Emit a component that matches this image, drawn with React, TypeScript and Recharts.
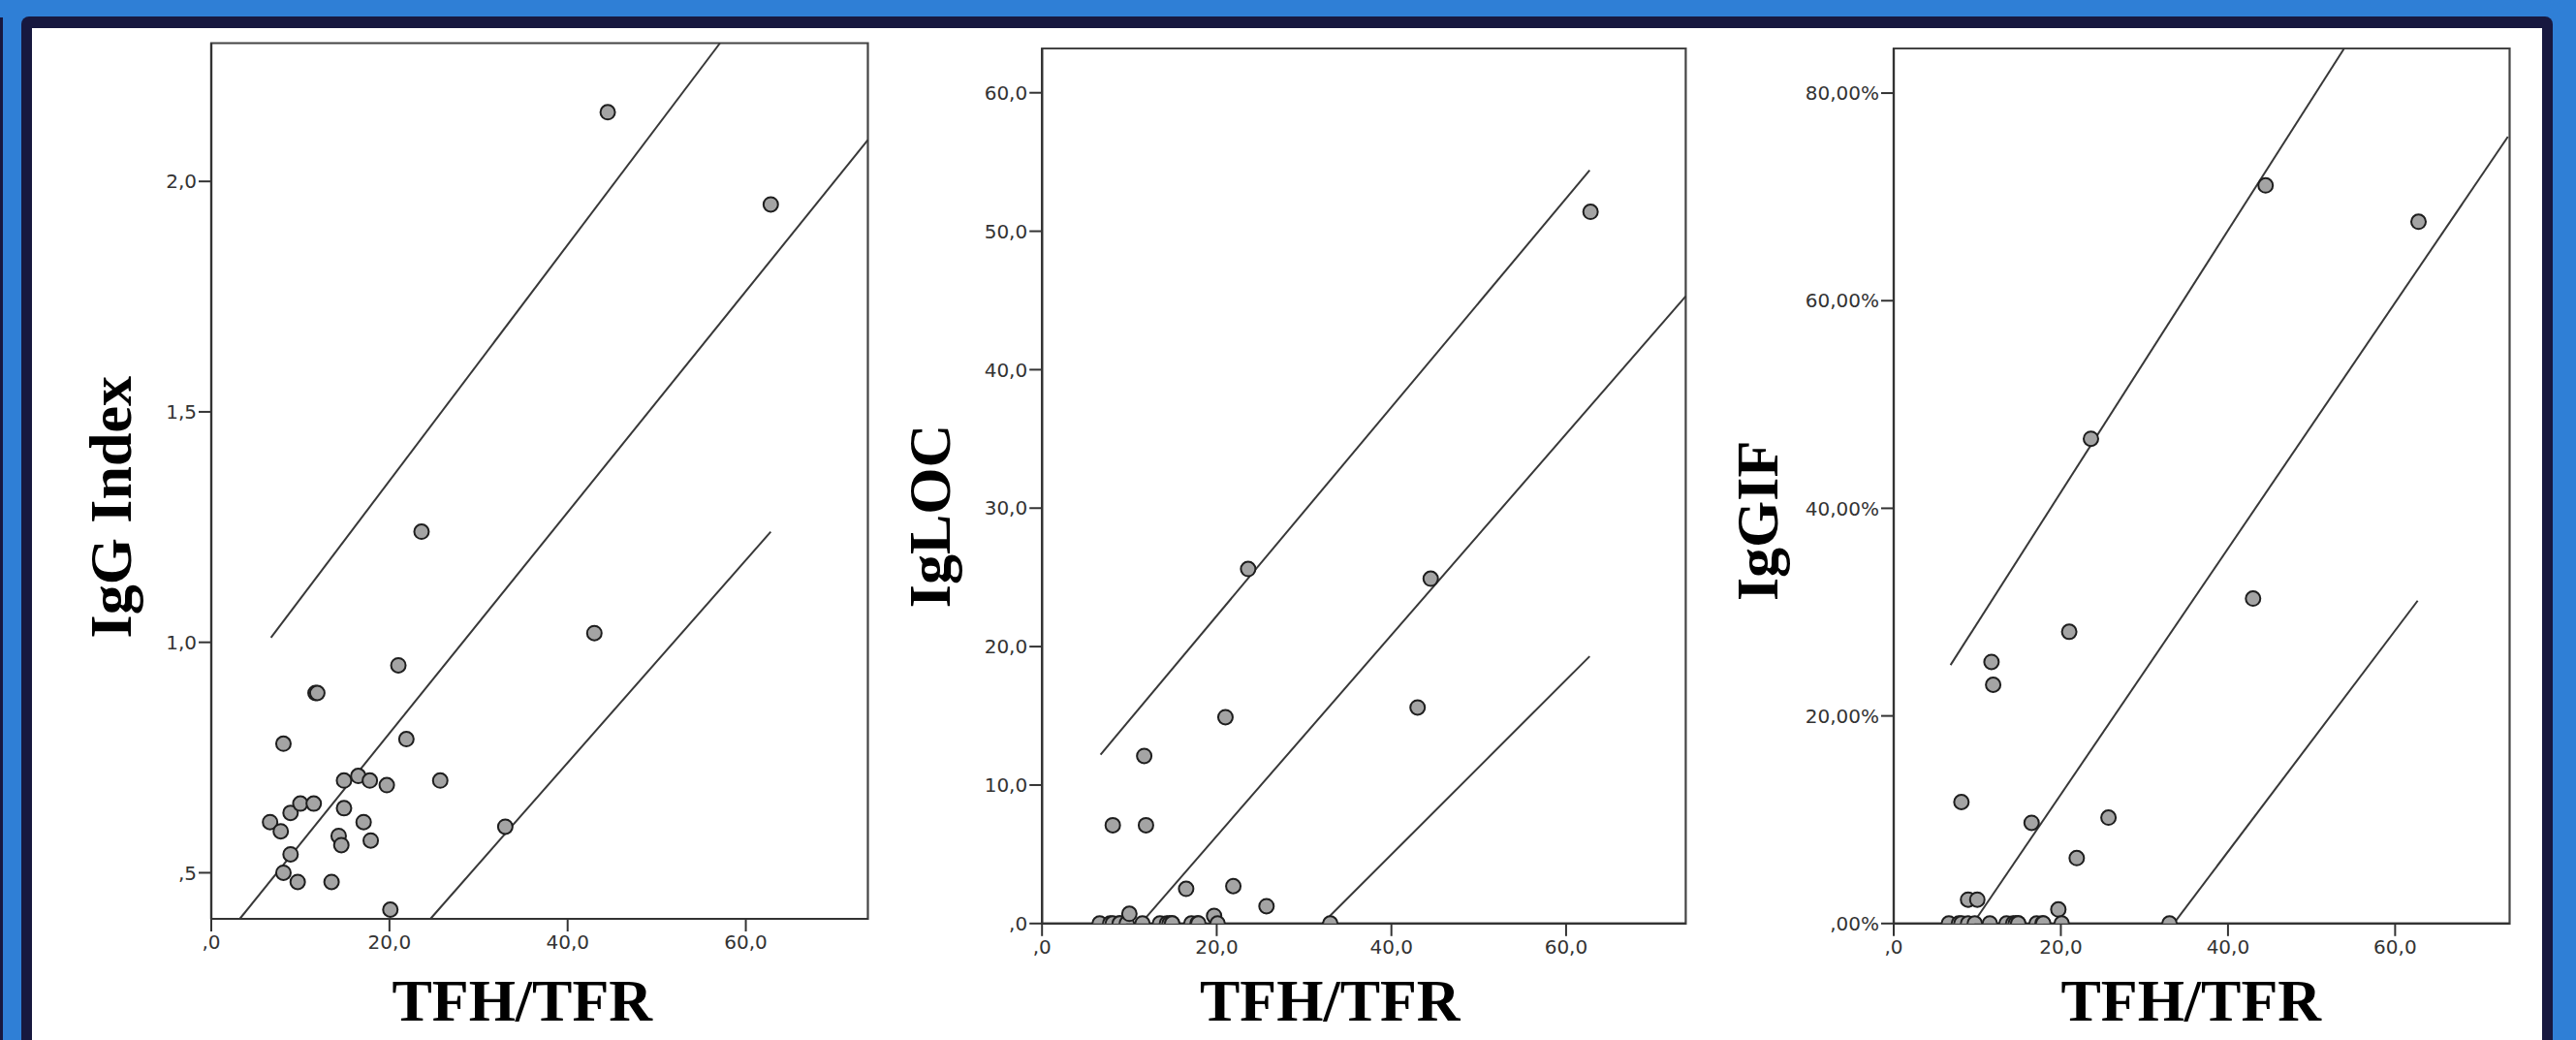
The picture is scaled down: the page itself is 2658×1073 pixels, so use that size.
import { ScatterChart, Scatter, XAxis, YAxis, ReferenceLine, ReferenceArea, Label } from "recharts";

// TFH/TFR ratio per patient (same patients in all three panels)
const tfhTfr = [6.6, 7.8, 8.1, 8.1, 8.9, 8.9, 9.7, 10.0, 11.5, 11.7, 11.9, 13.5, 14.3, 14.6, 14.9, 14.9, 16.5, 17.1, 17.8, 17.9, 19.7, 20.1, 21.0, 21.9, 23.6, 25.7, 33.0, 43.0, 44.5, 62.8];

// y values, one per patient
const iggIndex = [0.61, 0.59, 0.5, 0.78, 0.54, 0.63, 0.48, 0.65, 0.65, 0.89, 0.89, 0.48, 0.58, 0.56, 0.7, 0.64, 0.71, 0.61, 0.7, 0.57, 0.69, 0.42, 0.95, 0.79, 1.24, 0.7, 0.6, 1.02, 2.15, 1.95];
const igLoc = [0, 0, 0, 7.1, 0, 0, 0, 0.7, 0, 12.1, 7.1, 0, 0, 0, 0, 0, 2.5, 0, 0, 0, 0.55, 0, 14.9, 2.7, 25.6, 1.25, 0, 15.6, 24.9, 51.4];
const iggIf = [0, 0, 0, 11.7, 0, 2.3, 0, 2.3, 0, 25.2, 23.0, 0, 0, 0, 0, 0, 9.7, 0, 0, 0, 1.35, 0, 28.1, 6.3, 46.7, 10.2, 0, 31.3, 71.1, 67.6];

// fit line + prediction band edges, visible end points [x1, y1, x2, y2]
const iggIndexLines = [
  [6.7, 1.01, 57.1, 2.3],
  [3.2, 0.4, 73.7, 2.09],
  [24.6, 0.4, 62.8, 1.24],
];
const igLocLines = [
  [6.7, 12.2, 62.7, 54.4],
  [11.3, 0, 73.7, 45.3],
  [32.1, 0, 62.7, 19.3],
];
const iggIfLines = [
  [6.8, 24.9, 53.9, 84.3],
  [9.5, 0, 73.5, 75.8],
  [33.5, 0, 62.7, 31.1],
];

const xTicks = [0, 20, 40, 60];
const xDomain = [0, 73.7];
const iggIndexTicks = [0.5, 1.0, 1.5, 2.0];
const igLocTicks = [0, 10, 20, 30, 40, 50, 60];
const iggIfTicks = [0, 20, 40, 60, 80];

// SPSS style numbers: comma decimal, no leading zero
const spssNum = (v: number, d: number) => {
  const s = v.toFixed(d).replace(".", ",");
  return s.startsWith("0,") ? s.slice(1) : s;
};

const tickStyle = { fill: "#333", fontSize: 20, fontFamily: "DejaVu Sans" };
const titleStyle = { fontFamily: "Liberation Serif", fontWeight: 700, fontSize: 62, fill: "#000" };

function Panel(props: any) {
  const { box, ys, yDomain, yTicks, yFmt, yWidth, lines, yTitle, xTitleDx, yTitleGap, yTitleDy } = props;
  const data = tfhTfr.map((x, i) => ({ x, y: ys[i] }));
  return (
    <div style={{ position: "absolute", left: box.left, top: box.top }}>
      <ScatterChart width={box.width} height={box.height} margin={box.margin}>
        <XAxis
          type="number"
          dataKey="x"
          domain={xDomain}
          ticks={xTicks}
          allowDataOverflow
          height={40}
          tickSize={13}
          tickMargin={4}
          tickFormatter={(v) => spssNum(v, 1)}
          tick={tickStyle}
          axisLine={{ stroke: "#333", strokeWidth: 2.2 }}
          tickLine={{ stroke: "#333", strokeWidth: 2 }}
        >
          <Label
            content={(p: any) => {
              const vb = p.viewBox;
              return (
                <text x={vb.x + vb.width / 2 + xTitleDx} y={1053 - box.top} textAnchor="middle" style={titleStyle}>
                  TFH/TFR
                </text>
              );
            }}
          />
        </XAxis>
        <YAxis
          type="number"
          dataKey="y"
          domain={yDomain}
          ticks={yTicks}
          allowDataOverflow
          width={yWidth}
          tickSize={13}
          tickMargin={2}
          tickFormatter={yFmt}
          tick={tickStyle}
          axisLine={{ stroke: "#333", strokeWidth: 2.2 }}
          tickLine={{ stroke: "#333", strokeWidth: 2 }}
        >
          <Label
            content={(p: any) => {
              const vb = p.viewBox;
              const cx = vb.x + vb.width - yTitleGap;
              const cy = vb.y + vb.height / 2 + yTitleDy;
              return (
                <text x={cx} y={cy} textAnchor="middle" transform={`rotate(-90, ${cx}, ${cy})`} style={titleStyle}>
                  {yTitle}
                </text>
              );
            }}
          />
        </YAxis>
        <ReferenceArea
          x1={xDomain[0]}
          x2={xDomain[1]}
          y1={yDomain[0]}
          y2={yDomain[1]}
          fill="none"
          stroke="#444"
          strokeWidth={2.2}
          ifOverflow="visible"
        />
        <Scatter
          data={data}
          isAnimationActive={false}
          shape={(s: any) => <circle cx={s.cx} cy={s.cy} r={7.5} fill="#a4a4a4" stroke="#1e1e1e" strokeWidth={2} />}
        />
        {lines.map((l: number[], i: number) => (
          <ReferenceLine
            key={i}
            segment={[
              { x: l[0], y: l[1] },
              { x: l[2], y: l[3] },
            ]}
            stroke="#383838"
            strokeWidth={2}
            ifOverflow="visible"
          />
        ))}
      </ScatterChart>
    </div>
  );
}

export default function App() {
  return (
    <div style={{ position: "absolute", left: 0, top: 0, width: 2658, height: 1073, background: "#2f7fd6", overflow: "hidden" }}>
      <div style={{ position: "absolute", left: 0, top: 18, width: 3, height: 1100, background: "#17183f" }} />
      <div style={{ position: "absolute", left: 22, top: 17, width: 2612, height: 1100, background: "#17183f", borderRadius: 8 }} />
      <div style={{ position: "absolute", left: 33, top: 29, width: 2590, height: 1100, background: "#fff" }} />
      <Panel
        box={{ left: 60, top: 30, width: 860, height: 1043, margin: { top: 14.5, left: 58, right: 24.5, bottom: 85 } }}
        ys={iggIndex}
        yDomain={[0.4, 2.3]}
        yTicks={iggIndexTicks}
        yFmt={(v: number) => spssNum(v, 1)}
        yWidth={100}
        lines={iggIndexLines}
        yTitle="IgG Index"
        xTitleDx={-18}
        yTitleGap={83}
        yTitleDy={27}
      />
      <Panel
        box={{ left: 900, top: 30, width: 860, height: 1043, margin: { top: 20, left: 75.2, right: 20.6, bottom: 80.2 } }}
        ys={igLoc}
        yDomain={[0, 63.2]}
        yTicks={igLocTicks}
        yFmt={(v: number) => spssNum(v, 1)}
        yWidth={100}
        lines={igLocLines}
        yTitle="IgLOC"
        xTitleDx={-35}
        yTitleGap={95}
        yTitleDy={31}
      />
      <Panel
        box={{ left: 1760, top: 30, width: 860, height: 1043, margin: { top: 20, left: 84, right: 30.5, bottom: 80.2 } }}
        ys={iggIf}
        yDomain={[0, 84.3]}
        yTicks={iggIfTicks}
        yFmt={(v: number) => spssNum(v, 2) + "%"}
        yWidth={110}
        lines={iggIfLines}
        yTitle="IgGIF"
        xTitleDx={-11}
        yTitleGap={120}
        yTitleDy={36}
      />
    </div>
  );
}
